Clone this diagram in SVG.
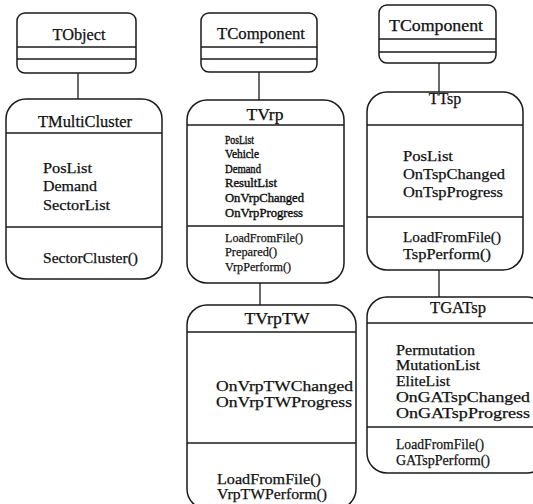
<svg xmlns="http://www.w3.org/2000/svg" width="533" height="504" viewBox="0 0 533 504">
<style>
.box{fill:#fff;stroke:#1a1a1a;stroke-width:1.5}
.ln{stroke:#1a1a1a;stroke-width:1.3;fill:none}
text{font-family:"Liberation Serif","Times New Roman",serif;fill:#111;stroke:#111;stroke-width:0.25}
.t{font-size:16px;text-anchor:middle}
.a{font-size:15px}
.s{font-size:12px;stroke-width:0.4}
.m{font-size:13.5px}
</style>
<rect width="533" height="504" fill="#fff"/>
<g id="connectors">
<line class="ln" x1="78" y1="73" x2="78" y2="99"/>
<line class="ln" x1="259" y1="72" x2="259" y2="100"/>
<line class="ln" x1="260" y1="283" x2="260" y2="305"/>
<line class="ln" x1="439" y1="63" x2="439" y2="92"/>
<line class="ln" x1="439" y1="270" x2="439" y2="297"/>
</g>
<g id="TObject">
<rect class="box" x="17" y="13" width="119" height="60" rx="8"/>
<line class="ln" x1="17" y1="47" x2="136" y2="47"/>
<line class="ln" x1="17" y1="59" x2="136" y2="59"/>
<text class="t" x="79" y="40" textLength="53" lengthAdjust="spacingAndGlyphs">TObject</text>
</g>
<g id="TMultiCluster">
<rect class="box" x="6" y="99" width="156" height="180" rx="20"/>
<line class="ln" x1="6" y1="133" x2="162" y2="133"/>
<line class="ln" x1="6" y1="227" x2="162" y2="227"/>
<text class="t" x="85" y="127" textLength="94" lengthAdjust="spacingAndGlyphs">TMultiCluster</text>
<text class="a" x="43" y="173" textLength="49" lengthAdjust="spacingAndGlyphs">PosList</text>
<text class="a" x="43" y="191" textLength="54" lengthAdjust="spacingAndGlyphs">Demand</text>
<text class="a" x="43" y="210" textLength="67" lengthAdjust="spacingAndGlyphs">SectorList</text>
<text class="a" x="43" y="263" textLength="95" lengthAdjust="spacingAndGlyphs">SectorCluster()</text>
</g>
<g id="TComponent1">
<rect class="box" x="201" y="13" width="116" height="59" rx="8"/>
<line class="ln" x1="201" y1="47" x2="317" y2="47"/>
<line class="ln" x1="201" y1="59" x2="317" y2="59"/>
<text class="t" x="261" y="39" textLength="88" lengthAdjust="spacingAndGlyphs">TComponent</text>
</g>
<g id="TVrp">
<rect class="box" x="187" y="100" width="157" height="183" rx="20"/>
<line class="ln" x1="187" y1="125" x2="344" y2="125"/>
<line class="ln" x1="187" y1="226" x2="344" y2="226"/>
<text class="t" x="265" y="120" textLength="37" lengthAdjust="spacingAndGlyphs">TVrp</text>
<text class="s" x="225" y="144" textLength="29" lengthAdjust="spacingAndGlyphs">PosList</text>
<text class="s" x="225" y="158" textLength="34" lengthAdjust="spacingAndGlyphs">Vehicle</text>
<text class="s" x="225" y="173" textLength="36" lengthAdjust="spacingAndGlyphs">Demand</text>
<text class="s" x="225" y="187" textLength="52" lengthAdjust="spacingAndGlyphs">ResultList</text>
<text class="s" x="225" y="202" textLength="79" lengthAdjust="spacingAndGlyphs">OnVrpChanged</text>
<text class="s" x="225" y="217" textLength="78" lengthAdjust="spacingAndGlyphs">OnVrpProgress</text>
<text class="m" x="225" y="242" textLength="78" lengthAdjust="spacingAndGlyphs">LoadFromFile()</text>
<text class="m" x="225" y="256" textLength="52" lengthAdjust="spacingAndGlyphs">Prepared()</text>
<text class="m" x="225" y="271" textLength="66" lengthAdjust="spacingAndGlyphs">VrpPerform()</text>
</g>
<g id="TVrpTW">
<rect class="box" x="187" y="305" width="169" height="204" rx="20"/>
<line class="ln" x1="187" y1="332" x2="356" y2="332"/>
<line class="ln" x1="187" y1="443" x2="356" y2="443"/>
<text class="t" x="277" y="324" textLength="65" lengthAdjust="spacingAndGlyphs">TVrpTW</text>
<text class="a" x="216" y="391" textLength="137" lengthAdjust="spacingAndGlyphs">OnVrpTWChanged</text>
<text class="a" x="216" y="407" textLength="136" lengthAdjust="spacingAndGlyphs">OnVrpTWProgress</text>
<text class="a" x="217" y="484" textLength="104" lengthAdjust="spacingAndGlyphs">LoadFromFile()</text>
<text class="a" x="217" y="499" textLength="110" lengthAdjust="spacingAndGlyphs">VrpTWPerform()</text>
</g>
<g id="TComponent2">
<rect class="box" x="379" y="5" width="117" height="58" rx="8"/>
<line class="ln" x1="379" y1="39" x2="496" y2="39"/>
<line class="ln" x1="379" y1="52" x2="496" y2="52"/>
<text class="t" x="436" y="31" textLength="94" lengthAdjust="spacingAndGlyphs">TComponent</text>
</g>
<g id="TTsp">
<rect class="box" x="367" y="92" width="156" height="178" rx="20"/>
<line class="ln" x1="367" y1="125" x2="523" y2="125"/>
<line class="ln" x1="367" y1="217" x2="523" y2="217"/>
<text class="t" x="445" y="104">TTsp</text>
<text class="a" x="403" y="161" textLength="50" lengthAdjust="spacingAndGlyphs">PosList</text>
<text class="a" x="403" y="179" textLength="102" lengthAdjust="spacingAndGlyphs">OnTspChanged</text>
<text class="a" x="403" y="197" textLength="100" lengthAdjust="spacingAndGlyphs">OnTspProgress</text>
<text class="a" x="403" y="242" textLength="98" lengthAdjust="spacingAndGlyphs">LoadFromFile()</text>
<text class="a" x="403" y="259" textLength="88" lengthAdjust="spacingAndGlyphs">TspPerform()</text>
</g>
<g id="TGATsp">
<rect class="box" x="367" y="297" width="180" height="176" rx="20"/>
<line class="ln" x1="367" y1="323" x2="533" y2="323"/>
<line class="ln" x1="367" y1="427" x2="533" y2="427"/>
<text class="t" x="458" y="313" textLength="56" lengthAdjust="spacingAndGlyphs">TGATsp</text>
<text class="a" x="396" y="355" textLength="79" lengthAdjust="spacingAndGlyphs">Permutation</text>
<text class="a" x="396" y="370" textLength="84" lengthAdjust="spacingAndGlyphs">MutationList</text>
<text class="a" x="396" y="386" textLength="54" lengthAdjust="spacingAndGlyphs">EliteList</text>
<text class="a" x="396" y="402" textLength="134" lengthAdjust="spacingAndGlyphs">OnGATspChanged</text>
<text class="a" x="396" y="418" textLength="134" lengthAdjust="spacingAndGlyphs">OnGATspProgress</text>
<text class="a" x="396" y="449" textLength="88" lengthAdjust="spacingAndGlyphs">LoadFromFile()</text>
<text class="a" x="396" y="465" textLength="94" lengthAdjust="spacingAndGlyphs">GATspPerform()</text>
</g>
</svg>
